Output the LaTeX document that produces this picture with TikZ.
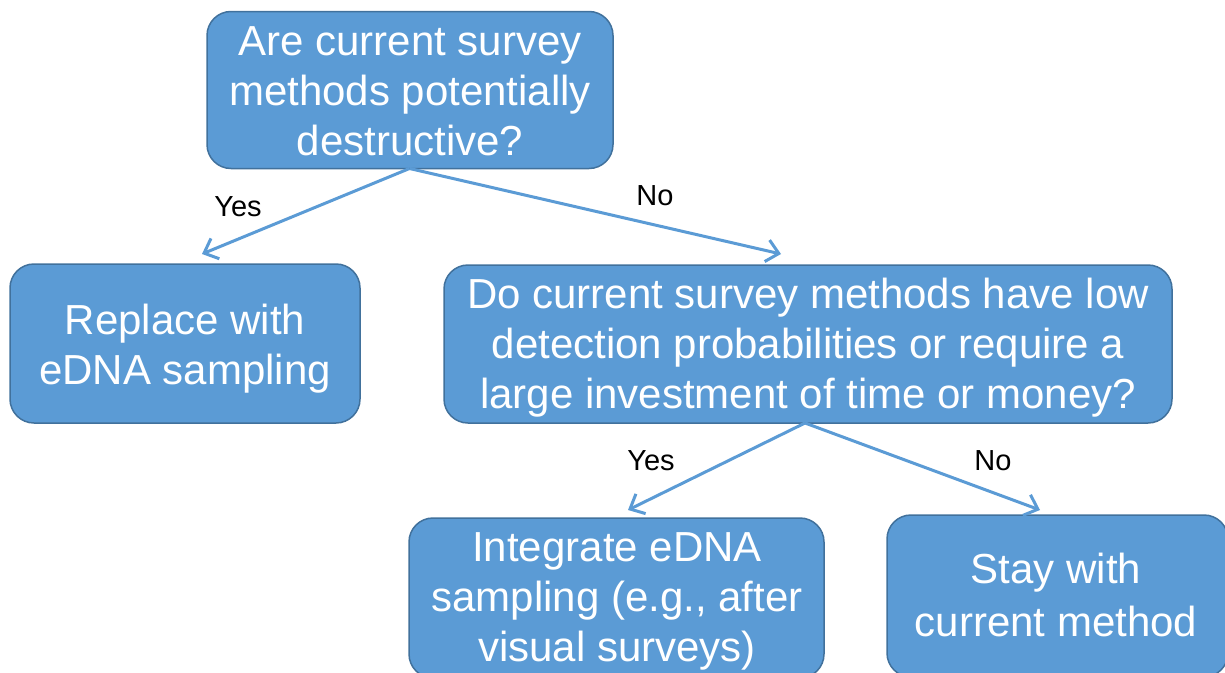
\documentclass[tikz,border=0pt]{standalone}
\usepackage{fontspec}
\setmainfont{Liberation Sans}
\usetikzlibrary{arrows.meta}
\definecolor{boxfill}{HTML}{5B9BD5}
\definecolor{boxline}{HTML}{41719C}
\begin{document}
\begin{tikzpicture}[x=1pt,y=-1pt,
  box/.style={draw=boxline, line width=1.5pt, fill=boxfill, rounded corners=24pt, inner sep=0pt},
  boxtext/.style={text=white, align=center, inner sep=0pt, font=\fontsize{42}{50}\selectfont},
  conn/.style={draw=boxfill, line width=3pt, -{Straight Barb[length=12pt,width=22pt,line width=3pt]}},
  lbl/.style={font=\fontsize{29}{33}\selectfont, text=black}]
\useasboundingbox (0,0) rectangle (1225,672);
\clip (0,0) rectangle (1225,672);
% boxes
\node[box, minimum width=406pt, minimum height=157pt] (q1) at (410,90) {};
\node[box, minimum width=350pt, minimum height=159pt] (rep) at (185,343.5) {};
\node[box, minimum width=728pt, minimum height=158pt] (q2) at (808,344) {};
\node[box, minimum width=415pt, minimum height=160pt] (int) at (616.5,598) {};
\node[box, minimum width=341pt, minimum height=162pt] (stay) at (1057.5,596) {};
% box texts
\node[boxtext] (q1t) at ([yshift=-1pt]q1.center) {Are current survey\\methods potentially\\destructive?};
\node[boxtext] (rept) at ([yshift=-5pt]rep.center) {Replace with\\eDNA sampling};
\node[boxtext] (q2t) at ([yshift=-3.5pt]q2.center) {Do current survey methods have low\\detection probabilities or require a\\large investment of time or money?};
\node[boxtext] (intt) at (617,601) {Integrate eDNA\\sampling (e.g., after\\visual surveys)};
\node[boxtext, font=\fontsize{42}{53.5}\selectfont] (stayt) at (1056,595) {Stay with\\current method};
% connectors
\coordinate (q1b) at (409.5,168.5);
\coordinate (q2b) at (805,423);
\coordinate (e1) at (202,254);
\coordinate (e2) at (781,254);
\coordinate (e3) at (628,510);
\coordinate (e4) at (1040,510);
\draw[conn] (q1b) -- (e1);
\draw[conn] (q1b) -- (e2);
\draw[conn] (q2b) -- (e3);
\draw[conn] (q2b) -- (e4);
% labels
\node[lbl] (y1) at (238,207) {Yes};
\node[lbl] (n1) at (655,196) {No};
\node[lbl] (y2) at (651,461) {Yes};
\node[lbl] (n2) at (993,461) {No};
\end{tikzpicture}
\end{document}
